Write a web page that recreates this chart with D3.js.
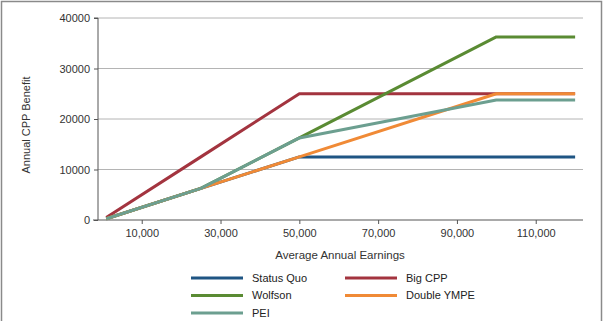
<!DOCTYPE html>
<html>
<head>
<meta charset="utf-8">
<script src="https://cdn.jsdelivr.net/npm/d3@7"></script>
<style>
  body { margin: 0; background: #fff; }
  svg { display: block; font-family: "Liberation Sans Narrow", "Liberation Sans", Arial, sans-serif; }
</style>
</head>
<body>
<svg width="604" height="321"></svg>
<script>
const earnings   = [1000, 25000, 50000, 100000, 120000];
const statusQuo  = [250, 6250, 12500, 12500, 12500];
const bigCpp     = [500, 12500, 25000, 25000, 25000];
const wolfson    = [250, 6250, 16250, 36250, 36250];
const doubleYmpe = [250, 6250, 12500, 25000, 25000];
const pei        = [250, 6250, 16250, 23750, 23750];

const seriesNames  = ["Status Quo", "Big CPP", "Wolfson", "Double YMPE", "PEI"];
const seriesValues = [statusQuo, bigCpp, wolfson, doubleYmpe, pei];
const seriesColors = ["#1f5583", "#a3343f", "#5a8b33", "#f08a36", "#6c9f90"];

const xTicks = [10000, 30000, 50000, 70000, 90000, 110000];
const yTicks = [0, 10000, 20000, 30000, 40000];

const svg = d3.select("svg");

// outer frame
svg.append("rect")
  .attr("x", 1.5).attr("y", 1.5)
  .attr("width", 600).attr("height", 330)
  .attr("fill", "none")
  .attr("stroke", "#8a8a8a")
  .attr("stroke-width", 1.5);

const x = d3.scaleLinear().domain([-1100, 122000]).range([98, 583]);
const y = d3.scaleLinear().domain([0, 40000]).range([220, 18]);

// gridlines
svg.append("g")
  .selectAll("line")
  .data(yTicks.filter(d => d > 0))
  .join("line")
  .attr("x1", x(-1100)).attr("x2", 583)
  .attr("y1", d => y(d)).attr("y2", d => y(d))
  .attr("stroke", "#b4b4b4")
  .attr("stroke-width", 1);

// y axis
const yAxis = svg.append("g")
  .attr("transform", `translate(${x(-1100)},0)`)
  .call(d3.axisLeft(y).tickValues(yTicks).tickFormat(d3.format("d")).tickSize(4).tickPadding(4));
yAxis.select(".domain").attr("stroke", "#555").attr("d", `M-4,${y(40000)}H0V${y(0)}`);
yAxis.selectAll(".tick line").attr("stroke", "#555");
yAxis.selectAll("text").attr("fill", "#333").style("font-size", "11px");

// x axis
const xAxis = svg.append("g")
  .attr("transform", `translate(0,${y(0)})`)
  .call(d3.axisBottom(x).tickValues(xTicks).tickFormat(d3.format(",")).tickSize(4).tickPadding(5));
xAxis.select(".domain").attr("stroke", "#555").attr("d", `M${x(-1100) - 5},0H583`);
xAxis.selectAll(".tick line").attr("stroke", "#555");
xAxis.selectAll("text").attr("fill", "#333").style("font-size", "11px");

// axis titles
svg.append("text")
  .attr("transform", "translate(30,125) rotate(-90)")
  .attr("text-anchor", "middle")
  .attr("fill", "#333")
  .style("font-size", "11px")
  .text("Annual CPP Benefit");

svg.append("text")
  .attr("x", 340).attr("y", 259)
  .attr("text-anchor", "middle")
  .attr("fill", "#333")
  .style("font-size", "11.5px")
  .text("Average Annual Earnings");

// lines
const line = d3.line()
  .x((d, i) => x(earnings[i]))
  .y(d => y(d));

svg.append("g")
  .selectAll("path")
  .data(seriesValues)
  .join("path")
  .attr("d", line)
  .attr("fill", "none")
  .attr("stroke", (d, i) => seriesColors[i])
  .attr("stroke-width", 3)
  .attr("stroke-linejoin", "round");

// legend
const legend = svg.append("g")
  .selectAll("g")
  .data(seriesNames)
  .join("g")
  .attr("transform", (d, i) => `translate(${i % 2 === 0 ? 191 : 345},${278 + Math.floor(i / 2) * 17.5})`);

legend.append("line")
  .attr("x1", 0).attr("x2", 52)
  .attr("stroke", (d, i) => seriesColors[i])
  .attr("stroke-width", 3);

legend.append("text")
  .attr("x", 61).attr("dy", "0.35em")
  .attr("fill", "#222")
  .style("font-size", "11px")
  .text(d => d);
</script>
</body>
</html>
